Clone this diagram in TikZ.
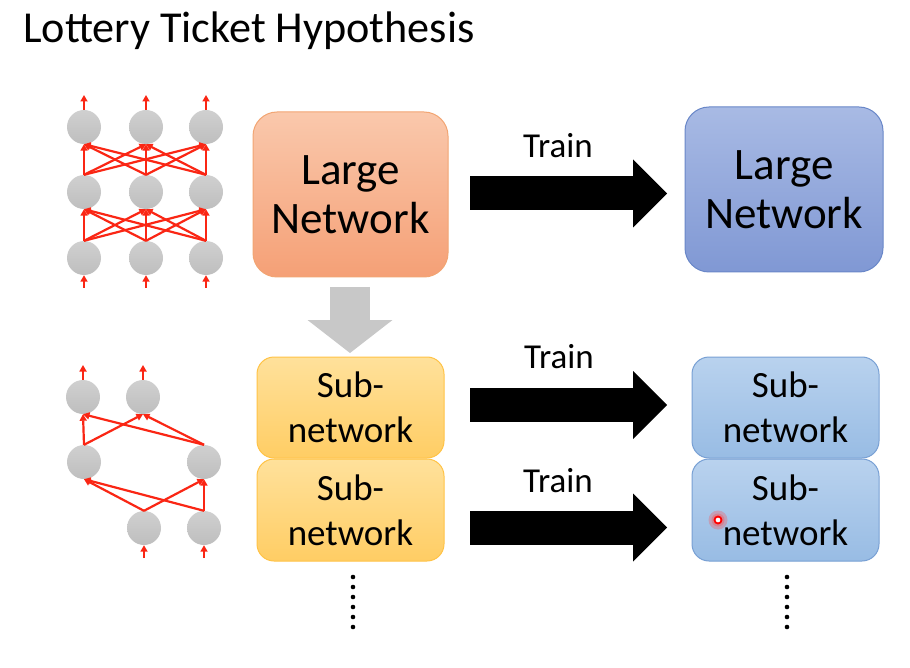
\documentclass[tikz,border=0pt]{standalone}
\usepackage{fontspec}
\setmainfont{Carlito}
\usetikzlibrary{arrows.meta}
\definecolor{nodetop}{RGB}{208,208,208}
\definecolor{nodebot}{RGB}{190,190,190}
\definecolor{synred}{RGB}{250,38,20}
\definecolor{orangetop}{RGB}{250,200,172}
\definecolor{orangebot}{RGB}{245,160,118}
\definecolor{orangeedge}{RGB}{242,165,115}
\definecolor{bluetop}{RGB}{168,186,228}
\definecolor{bluebot}{RGB}{128,152,212}
\definecolor{blueedge}{RGB}{105,135,200}
\definecolor{yellowtop}{RGB}{255,225,155}
\definecolor{yellowbot}{RGB}{255,205,100}
\definecolor{yellowedge}{RGB}{255,195,70}
\definecolor{lbluetop}{RGB}{185,210,238}
\definecolor{lbluebot}{RGB}{152,188,228}
\definecolor{lblueedge}{RGB}{120,160,212}
\definecolor{arrowgray}{RGB}{200,200,200}
\begin{document}
\begin{tikzpicture}[x=1pt,y=1pt,
  neuron/.style={circle,inner sep=0pt,minimum size=34pt,top color=nodetop,bottom color=nodebot,draw=none},
  syn/.style={draw=synred,line width=2.2pt,-{Triangle[length=6.5pt,width=7pt]}},
  bigbox/.style={rounded corners=24pt,minimum width=195pt,minimum height=165pt,inner sep=0pt,line width=1pt,align=center,font=\fontsize{45}{49}\selectfont},
  subbox/.style={rounded corners=17pt,minimum width=187pt,minimum height=101pt,inner sep=0pt,line width=1pt,align=center,font=\fontsize{37}{45}\selectfont},
  orangebox/.style={bigbox,top color=orangetop,bottom color=orangebot,draw=orangeedge},
  bluebox/.style={bigbox,top color=bluetop,bottom color=bluebot,draw=blueedge},
  yellowbox/.style={subbox,top color=yellowtop,bottom color=yellowbot,draw=yellowedge},
  lbluebox/.style={subbox,top color=lbluetop,bottom color=lbluebot,draw=lblueedge},
  trainarrow/.style={line width=34pt,black,-{Triangle[length=34pt,width=68pt,line width=0pt]}},
  downarrow/.style={line width=40pt,arrowgray,-{Triangle[length=33pt,width=85pt,line width=0pt]}},
  trainlabel/.style={anchor=base,font=\fontsize{35}{42}\selectfont,inner sep=0pt},
  titletext/.style={anchor=base west,font=\fontsize{44.2}{50}\selectfont,inner sep=0pt}
]
\useasboundingbox (0,0) rectangle (910,-668);
\fill[white] (0,0) rectangle (910,-668);

% title
\node[titletext] (title) at (23,-43) {Lottery Ticket Hypothesis};

% ---------- large network (left) ----------
\foreach \c/\x in {1/84,2/146,3/206}{
  \node[neuron] (a1\c) at (\x,-127) {};
  \node[neuron] (a2\c) at (\x,-192) {};
  \node[neuron] (a3\c) at (\x,-258) {};
  \coordinate (aout\c) at (\x,-95);
  \coordinate (ain\c) at (\x,-288);
}
\foreach \c in {1,2,3}{
  \draw[syn] (a1\c.north) -- (aout\c);
  \draw[syn] (ain\c) -- (a3\c.south);
  \foreach \d in {1,2,3}{
    \draw[syn] (a2\c.north) -- (a1\d.south);
    \draw[syn] (a3\c.north) -- (a2\d.south);
  }
}

% ---------- pruned network (left) ----------
\node[neuron] (t1) at (83,-397) {};
\node[neuron] (t2) at (143,-397) {};
\node[neuron] (m1) at (84,-462) {};
\node[neuron] (m2) at (204,-462) {};
\node[neuron] (b1) at (144,-528) {};
\node[neuron] (b2) at (204,-528) {};
\coordinate (tout1) at (83,-365);
\coordinate (tout2) at (143,-365);
\coordinate (bin1) at (144,-558);
\coordinate (bin2) at (204,-558);
\draw[syn] (t1.north) -- (tout1);
\draw[syn] (t2.north) -- (tout2);
\draw[syn] (bin1) -- (b1.south);
\draw[syn] (bin2) -- (b2.south);
\foreach \s in {m1,m2}{
  \foreach \t in {t1,t2}{ \draw[syn] (\s.north) -- (\t.south); }
}
\foreach \s in {b1,b2}{
  \foreach \t in {m1,m2}{ \draw[syn] (\s.north) -- (\t.south); }
}

% ---------- boxes ----------
\node[orangebox] (lg) at (350.5,-194.5) {Large\\Network};
\node[bluebox,minimum width=198pt] (lgt) at (784,-189.5) {Large\\Network};
\node[yellowbox] (s1) at (350.5,-407.5) {Sub-\\network};
\node[yellowbox,minimum height=102pt] (s2) at (350.5,-510) {Sub-\\network};
\node[lbluebox] (s1t) at (785.5,-407.5) {Sub-\\network};
\node[lbluebox,minimum height=102pt] (s2t) at (785.5,-510) {Sub-\\network};

% ---------- gray down arrow ----------
\coordinate (dtop) at (350,-287);
\coordinate (dtip) at (350,-353);
\draw[downarrow] (dtop) -- (dtip);

% ---------- train arrows ----------
\coordinate (tr1s) at (470,-193.5);
\coordinate (tr1e) at (667,-193.5);
\coordinate (tr2s) at (470,-405);
\coordinate (tr2e) at (667,-405);
\coordinate (tr3s) at (470,-527.5);
\coordinate (tr3e) at (667,-527.5);
\draw[trainarrow] (tr1s) -- (tr1e);
\draw[trainarrow] (tr2s) -- (tr2e);
\draw[trainarrow] (tr3s) -- (tr3e);
\node[trainlabel] (l1) at (558,-158) {Train};
\node[trainlabel] (l2) at (559,-368) {Train};
\node[trainlabel] (l3) at (558,-492) {Train};

% ---------- vertical dots ----------
\foreach \i in {0,...,5}{
  \fill (353,{-577-10*\i}) circle (2.3);
  \fill (787,{-577-10*\i}) circle (2.3);
}

% ---------- laser pointer ----------
\fill[red!70,opacity=0.3] (718,-520) circle (9.5);
\fill[red!70,opacity=0.35] (718,-520) circle (6.5);
\draw[red,line width=1.8pt,fill=white] (718,-520) circle (3.5);
\end{tikzpicture}
\end{document}
